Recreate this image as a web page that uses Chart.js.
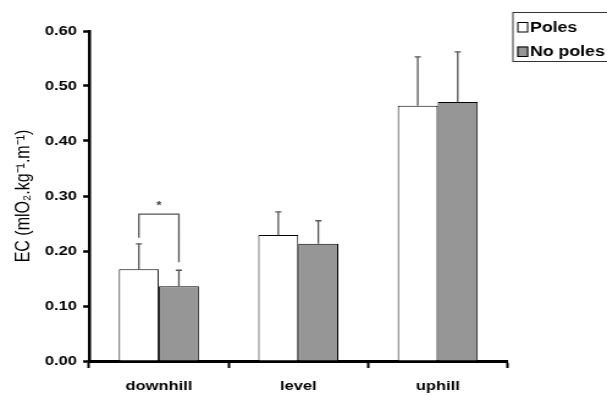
<!DOCTYPE html>
<html>
<head>
<meta charset="utf-8">
<script src="https://cdn.jsdelivr.net/npm/chart.js@4/dist/chart.umd.min.js"></script>
<style>
  html, body { margin: 0; padding: 0; background: #fff; overflow: hidden; }
  /* the source figure is stretched sideways, so draw it narrow and widen it */
  #wrap { width: 497px; height: 396px; transform: scaleX(1.2213); transform-origin: 0 0; }
</style>
</head>
<body>
<div id="wrap"><canvas id="ecChart"></canvas></div>
<script>
// data
var categories = ["downhill", "level", "uphill"];
var polesMean = [0.167, 0.229, 0.464];
var polesSD = [0.046, 0.042, 0.089];
var noPolesMean = [0.136, 0.213, 0.471];
var noPolesSD = [0.029, 0.042, 0.091];
var yTicks = [0, 0.1, 0.2, 0.3, 0.4, 0.5, 0.6];
var sigCategory = [0];     // categories with a significance bracket
var sigLevel = [0.267];    // bracket height (EC units)
var sigMark = ["*"];

var FONT = "'Liberation Sans', Arial, sans-serif";

// error bars (upper whisker only) + significance bracket
var errorBars = {
    id: "errorBars",
    afterDatasetsDraw: function(chart) {
        var ctx = chart.ctx;
        var y = chart.scales.y;
        ctx.save();
        ctx.strokeStyle = "#555";
        ctx.lineWidth = 1.3;
        chart.data.datasets.forEach(function(ds, di) {
            chart.getDatasetMeta(di).data.forEach(function(bar, i) {
                var top = y.getPixelForValue(ds.data[i] + ds.sd[i]);
                ctx.beginPath();
                ctx.moveTo(bar.x, bar.y);
                ctx.lineTo(bar.x, top);
                ctx.moveTo(bar.x - 2.5, top);
                ctx.lineTo(bar.x + 2.5, top);
                ctx.stroke();
            });
        });

        sigCategory.forEach(function(c, k) {
            var d0 = chart.data.datasets[0], d1 = chart.data.datasets[1];
            var a = chart.getDatasetMeta(0).data[c];
            var b = chart.getDatasetMeta(1).data[c];
            var yl = y.getPixelForValue(d0.data[c] + d0.sd[c]) - 6;
            var yr = y.getPixelForValue(d1.data[c] + d1.sd[c]) - 8;
            var yt = y.getPixelForValue(sigLevel[k]);
            ctx.beginPath();
            ctx.moveTo(a.x, yl);
            ctx.lineTo(a.x, yt);
            ctx.lineTo(b.x, yt);
            ctx.lineTo(b.x, yr);
            ctx.stroke();
            ctx.fillStyle = "#444";
            ctx.font = "bold 11px " + FONT;
            ctx.textAlign = "center";
            ctx.textBaseline = "middle";
            ctx.fillText(sigMark[k], (a.x + b.x) / 2, yt - 8);
        });
        ctx.restore();
    }
};

// boxed legend to the right of the plot
var boxLegend = {
    id: "boxLegend",
    afterDraw: function(chart) {
        var ctx = chart.ctx;
        var left = chart.chartArea.right + 4;
        ctx.save();
        ctx.strokeStyle = "#333";
        ctx.lineWidth = 1;
        ctx.strokeRect(left + 0.5, 12.5, chart.width, 49);
        ctx.font = "bold 14.5px " + FONT;
        ctx.textBaseline = "middle";
        chart.data.datasets.forEach(function(ds, i) {
            var cy = 27 + i * 24.5;
            ctx.fillStyle = ds.backgroundColor;
            ctx.fillRect(left + 4, cy - 5, 9, 10.5);
            ctx.strokeStyle = "#000";
            ctx.strokeRect(left + 4.5, cy - 4.5, 8, 9.5);
            ctx.fillStyle = "#000";
            ctx.fillText(ds.label, left + 14.5, cy + 0.5);
        });
        ctx.restore();
    }
};

var ctx = document.getElementById("ecChart").getContext("2d");
var ecChart = new Chart(ctx, {
    type: "bar",
    data: {
        labels: categories,
        datasets: [{
            label: "Poles",
            data: polesMean,
            sd: polesSD,
            backgroundColor: "#ffffff",
            borderColor: "#000",
            borderWidth: 1,
            barPercentage: 1,
            categoryPercentage: 0.574
        }, {
            label: "No poles",
            data: noPolesMean,
            sd: noPolesSD,
            backgroundColor: "#969696",
            borderColor: "#000",
            borderWidth: 1,
            barPercentage: 1,
            categoryPercentage: 0.574
        }]
    },
    options: {
        responsive: true,
        maintainAspectRatio: false,
        animation: false,
        layout: { padding: { left: 0, right: 81.5, top: 31, bottom: 0 } },
        plugins: {
            legend: { display: false },
            tooltip: { enabled: false }
        },
        scales: {
            x: {
                offset: true,
                grid: {
                    offset: true,
                    drawOnChartArea: false,
                    tickLength: 7,
                    tickColor: "#000",
                    tickWidth: 2
                },
                border: { color: "#000", width: 3 },
                ticks: {
                    color: "#000",
                    padding: 10,
                    font: { family: FONT, size: 13.5, weight: "bold" }
                },
                afterFit: function(scale) { scale.height = 35; }
            },
            y: {
                min: 0,
                max: 0.6,
                grid: {
                    drawOnChartArea: false,
                    tickLength: 5,
                    tickColor: "#000",
                    tickWidth: 2.5
                },
                border: { color: "#000", width: 2.5 },
                afterBuildTicks: function(scale) {
                    scale.ticks = yTicks.map(function(v) { return { value: v }; });
                },
                ticks: {
                    color: "#000",
                    padding: 5,
                    font: { family: FONT, size: 13.5, weight: "bold" },
                    callback: function(v) { return Number(v).toFixed(2); }
                },
                title: {
                    display: true,
                    text: "EC (mlO\u2082.kg\u207B\u00B9.m\u207B\u00B9)",
                    color: "#000",
                    font: { family: FONT, size: 16 },
                    padding: { top: 10, bottom: 0 }
                },
                afterFit: function(scale) { scale.width = 73; }
            }
        }
    },
    plugins: [errorBars, boxLegend]
});
</script>
</body>
</html>
